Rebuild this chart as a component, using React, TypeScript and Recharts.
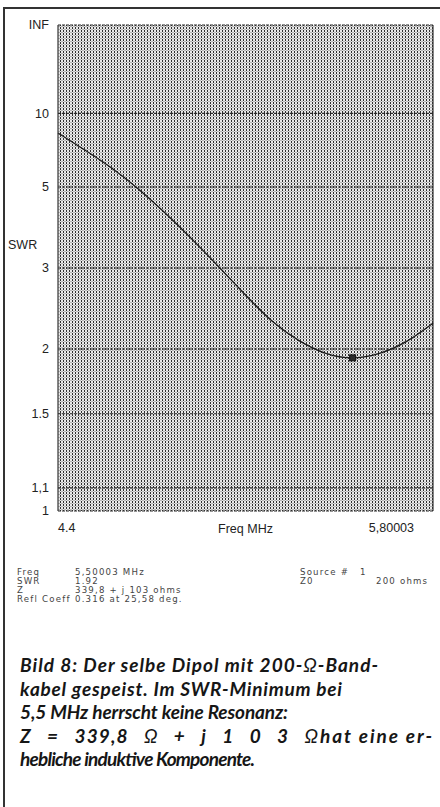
import React from 'react';
import { LineChart, Line, XAxis, YAxis, CartesianGrid, ReferenceLine, ReferenceDot } from 'recharts';

// SWR sweep of the dipole fed with 200-ohm ribbon cable
const freqMHz = [4.4, 4.5, 4.6, 4.7, 4.8, 4.9, 5.0, 5.1, 5.2, 5.3, 5.4, 5.5, 5.6, 5.7, 5.80003];
const swrValues = [8.0, 6.78, 5.8, 4.93, 4.17, 3.54, 3.02, 2.6, 2.28, 2.08, 1.96, 1.92, 1.96, 2.07, 2.26];

const swrTicks = [1, 1.1, 1.5, 2, 3, 5, 10, Infinity];
const swrTickLabels = ['1', '1,1', '1.5', '2', '3', '5', '10', 'INF'];
const freqTicks = [4.4, 5.80003];
const freqTickLabels = ['4.4', '5,80003'];

const infoLabels = ['Freq', 'SWR', 'Z', 'Refl Coeff'];
const infoValues = ['5,50003 MHz', '1.92', '339,8 + j 103 ohms', '0.316 at 25,58 deg.'];
const sourceLabels = ['Source #', 'Z0'];
const sourceValues = ['1', '200 ohms'];

// the program plots SWR on a reflection-coefficient scale
const toRho = (s: number) => (s === Infinity ? 1 : (s - 1) / (s + 1));

const data = freqMHz.map((f, i) => ({ f, swr: swrValues[i] }));
const rhoTicks = swrTicks.map(toRho);

const minIdx = swrValues.indexOf(Math.min(...swrValues));

const axisFont = { fontFamily: '"Liberation Sans", Arial, sans-serif', fontSize: 12.5, fill: '#222' };

const FreqTick = (props: any) => {
  const { x, y, index } = props;
  return (
    <text x={x} y={y} dy={21} textAnchor={index === 0 ? 'start' : 'end'} {...axisFont}>
      {freqTickLabels[index]}
    </text>
  );
};

const MinMarker = (props: any) => (
  <rect x={props.cx - 3} y={props.cy - 3} width={6} height={6} fill="#2a2a2a" stroke="#111" strokeWidth={1} />
);

const infoStyle: React.CSSProperties = {
  position: 'absolute',
  fontFamily: '"DejaVu Sans", sans-serif',
  fontSize: 8.6,
  color: '#444',
  letterSpacing: 1.2,
  lineHeight: '9px',
  whiteSpace: 'nowrap',
};

const capFont = {
  fontFamily: 'Lato, "Open Sans", sans-serif',
  fontWeight: 700,
  fontStyle: 'italic',
  fontSize: 19,
  fill: '#161616',
};

export default function App() {
  return (
    <div style={{ position: 'absolute', left: 0, top: 0, width: 440, height: 807, background: '#fff', overflow: 'hidden' }}>
      {/* page frame */}
      <div style={{ position: 'absolute', left: 3, top: 7, width: 437, height: 2, background: '#333' }} />
      <div style={{ position: 'absolute', left: 3, top: 7, width: 2, height: 800, background: '#333' }} />

      <div style={{ position: 'absolute', left: 0, top: 0 }}>
        <LineChart width={440} height={540} data={data} margin={{ top: 25, right: 7, left: 0, bottom: 0 }}>
          <defs>
            <pattern id="swrDots" width={3} height={3} patternUnits="userSpaceOnUse">
              <rect x={0} y={0} width={3} height={3} fill="#e9e9e9" />
              <rect x={0} y={0} width={1} height={2} fill="#2e2e2e" />
              <rect x={1} y={2} width={2} height={1} fill="#b5b5b5" />
            </pattern>
          </defs>
          <CartesianGrid
            vertical={false}
            fill="url(#swrDots)"
            fillOpacity={1}
            stroke="#2a2a2a"
            strokeWidth={1.1}
            strokeDasharray="3 1"
          />
          <XAxis
            dataKey="f"
            type="number"
            domain={[4.4, 5.80003]}
            ticks={freqTicks}
            height={29}
            tick={<FreqTick />}
            tickSize={0}
            tickMargin={0}
            axisLine={false}
            tickLine={false}
            label={{ value: 'Freq MHz', position: 'insideBottom', offset: 7, ...axisFont }}
          />
          <YAxis
            type="number"
            domain={[0, 1]}
            ticks={rhoTicks}
            width={58}
            tickSize={0}
            tickMargin={9}
            tickLine={false}
            axisLine={{ stroke: '#333', strokeWidth: 1.2 }}
            tick={axisFont}
            tickFormatter={(v: number) => {
              const i = rhoTicks.findIndex((t) => Math.abs(t - v) < 1e-6);
              return i >= 0 ? swrTickLabels[i] : '';
            }}
            interval={0}
          />
          <ReferenceLine x={5.80003} stroke="#333" strokeWidth={1.2} />
          <Line
            type="natural"
            dataKey={(d: any) => toRho(d.swr)}
            stroke="#1a1a1a"
            strokeWidth={1.3}
            dot={false}
            isAnimationActive={false}
          />
          <ReferenceDot x={freqMHz[minIdx]} y={toRho(swrValues[minIdx])} shape={<MinMarker />} />
        </LineChart>
      </div>

      <div style={{ position: 'absolute', left: 8, top: 238, ...axisFont, color: '#222' } as React.CSSProperties}>SWR</div>

      {infoLabels.map((l, i) => (
        <div key={l} style={{ ...infoStyle, left: 17, top: 568 + i * 9 }}>{l}</div>
      ))}
      {infoValues.map((v, i) => (
        <div key={v} style={{ ...infoStyle, left: 75, top: 568 + i * 9 }}>{v}</div>
      ))}
      {sourceLabels.map((l, i) => (
        <div key={l} style={{ ...infoStyle, left: 300, top: 568 + i * 9 }}>{l}</div>
      ))}
      {sourceValues.map((v, i) => (
        <div key={v} style={{ ...infoStyle, left: i === 0 ? 360 : 376, top: 568 + i * 9 }}>{v}</div>
      ))}

      {/* figure caption */}
      <svg width={440} height={140} style={{ position: 'absolute', left: 0, top: 650 }}>
        <text x={20} y={22} textLength={358} lengthAdjust="spacing" {...capFont}>
          Bild 8: Der selbe Dipol mit 200-<tspan fontWeight={400}>Ω</tspan>-Band-
        </text>
        <text x={20} y={45.5} textLength={322} lengthAdjust="spacing" {...capFont}>
          kabel gespeist. Im SWR-Minimum bei
        </text>
        <text x={20} y={69} textLength={268} lengthAdjust="spacing" {...capFont}>
          5,5 MHz herrscht keine Resonanz:
        </text>
        <text x={20} y={92.5} wordSpacing={10} textLength={298} lengthAdjust="spacing" {...capFont}>
          Z = 339,8 <tspan fontWeight={400}>Ω</tspan> + j 1 0 3 <tspan fontWeight={400}>Ω</tspan>
        </text>
        <text x={320} y={92.5} textLength={112} lengthAdjust="spacing" {...capFont}>
          hat eine er-
        </text>
        <text x={20} y={116} textLength={235} lengthAdjust="spacing" {...capFont}>
          hebliche induktive Komponente.
        </text>
      </svg>
    </div>
  );
}
